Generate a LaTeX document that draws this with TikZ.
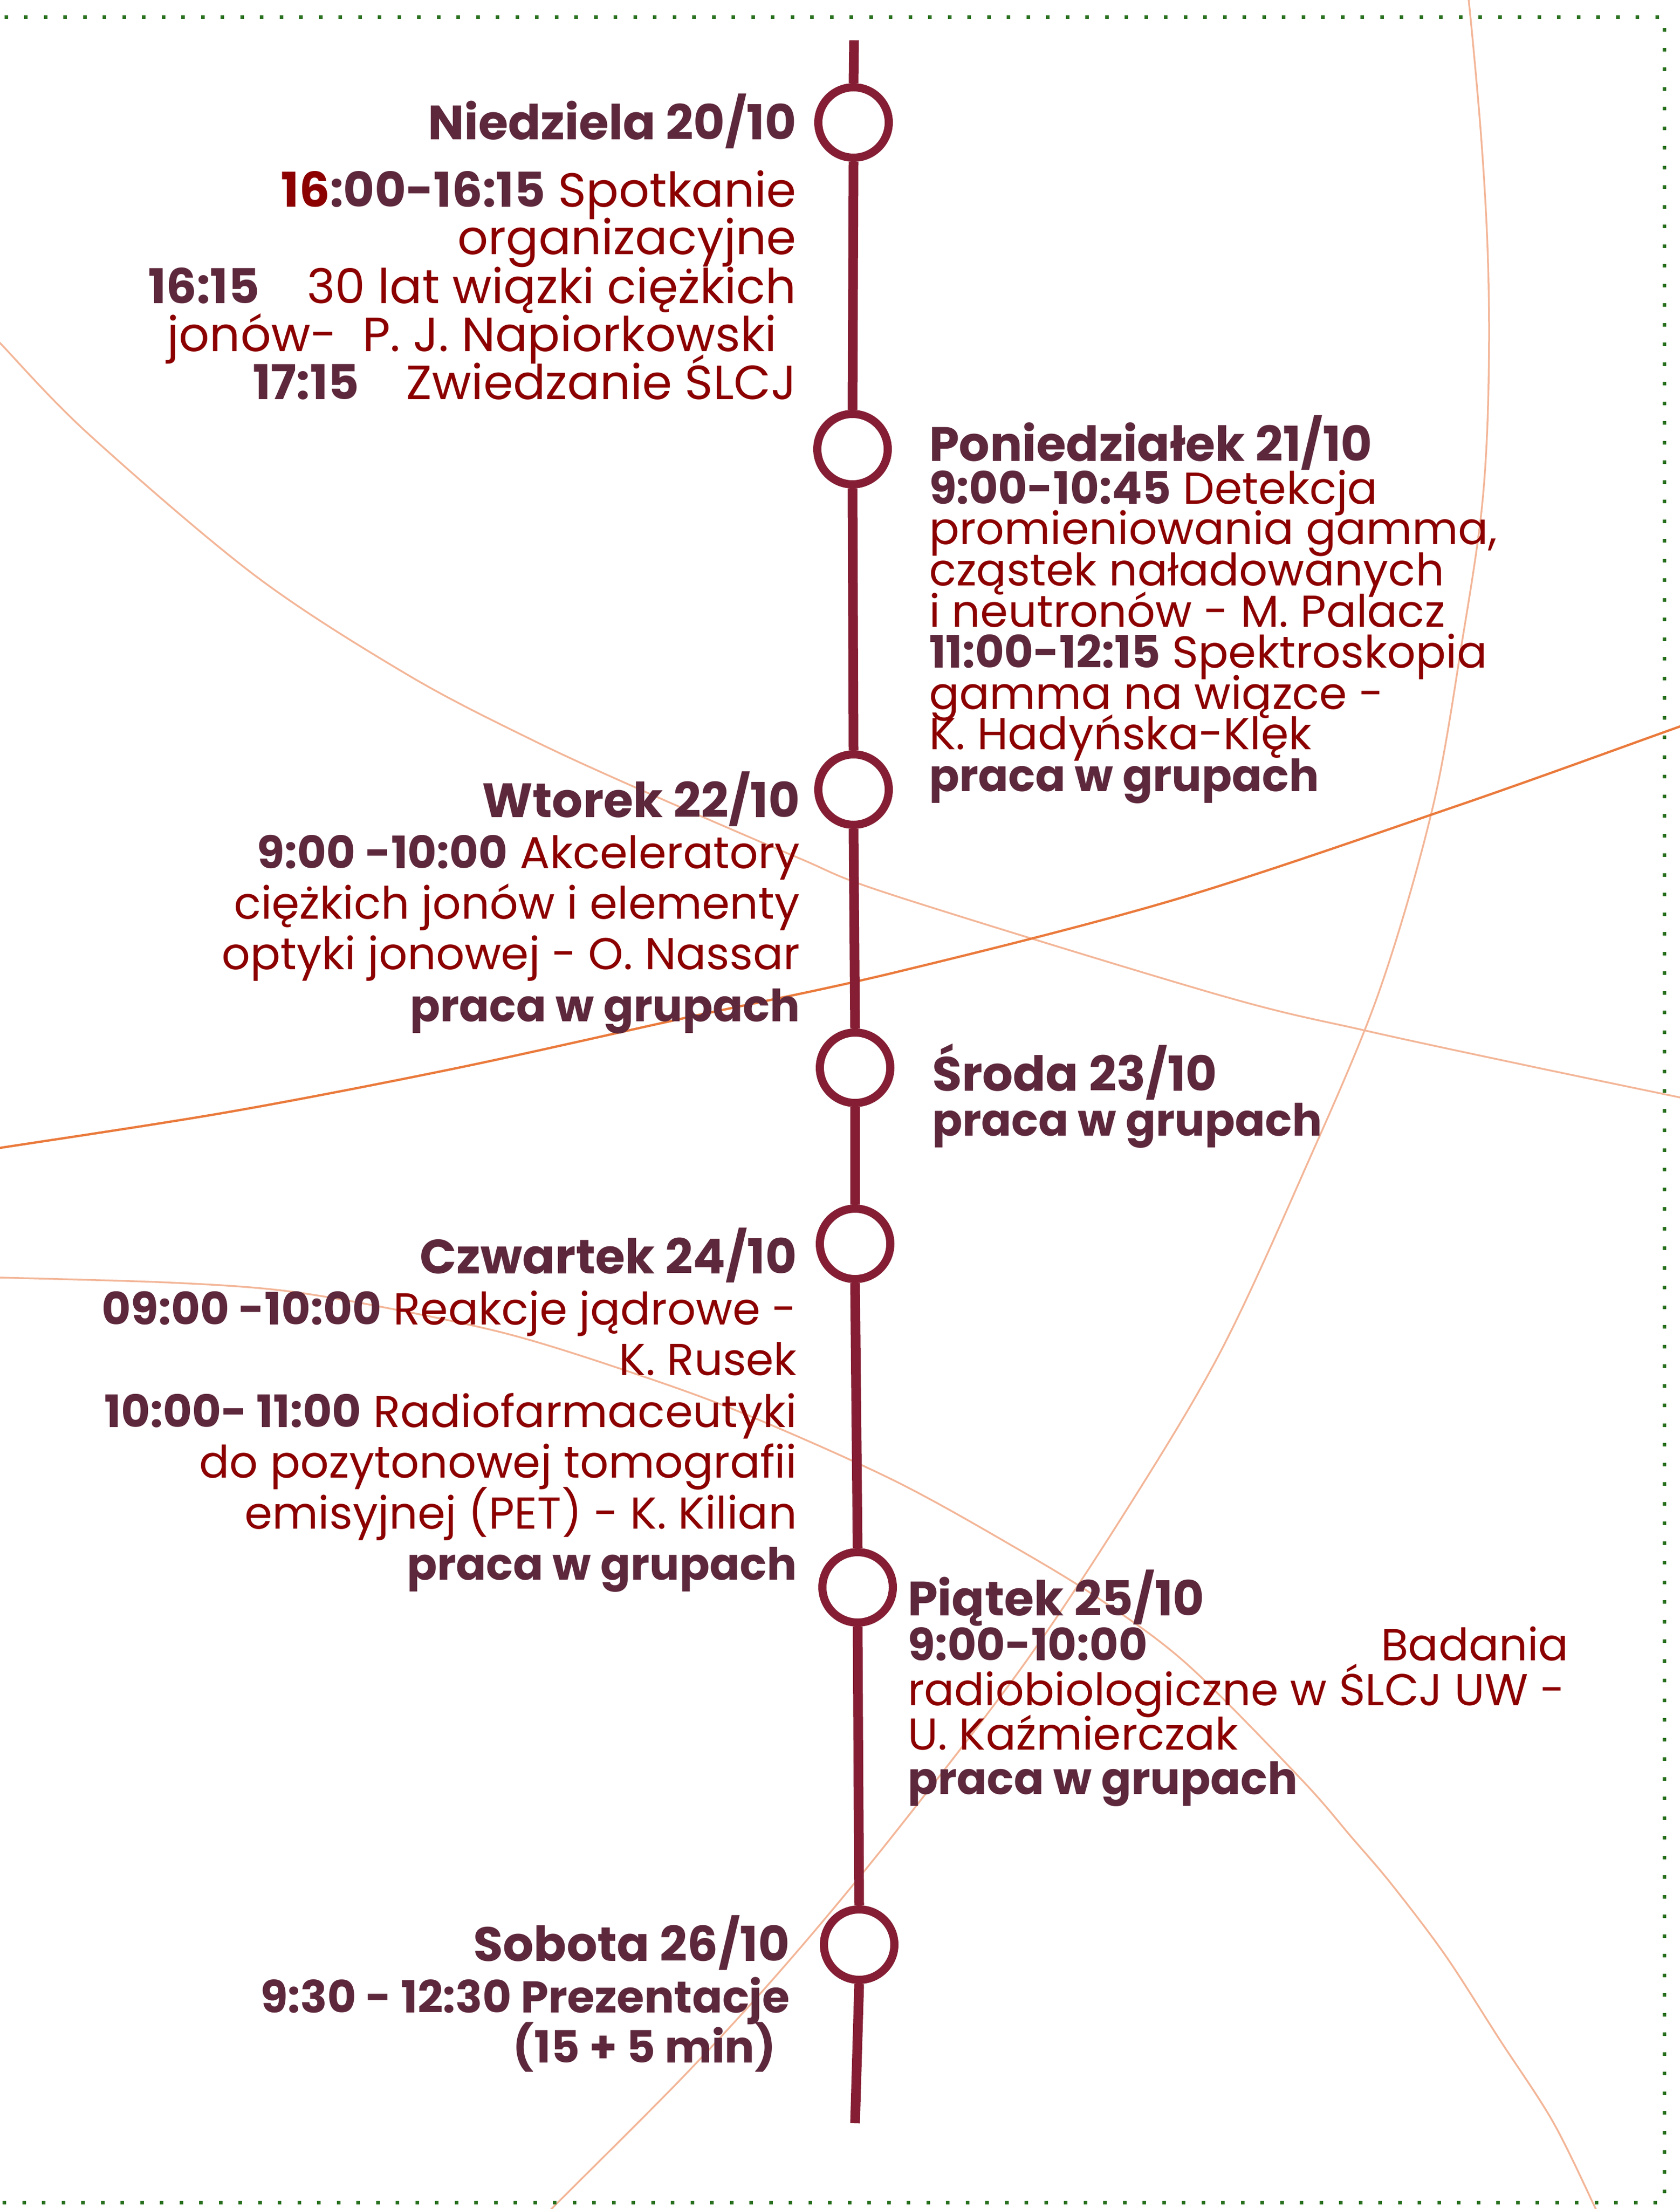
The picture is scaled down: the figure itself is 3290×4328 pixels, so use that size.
\documentclass[tikz,border=0pt]{standalone}
\usepackage{fontspec}
\setmainfont{Poppins}
\definecolor{plum}{RGB}{94,40,60}
\definecolor{redtxt}{RGB}{140,0,0}
\definecolor{crimson}{RGB}{133,30,52}
\definecolor{salmon}{RGB}{243,182,152}
\definecolor{orangeln}{RGB}{234,122,60}
\definecolor{dotgreen}{RGB}{40,112,30}
\newcommand\hdf{\fontsize{18.9pt}{19pt}\selectfont\bfseries}
\newcommand\bdfA{\fontsize{18.8pt}{19pt}\selectfont}
\newcommand\bdf{\fontsize{17.5pt}{18pt}\selectfont}
\newcommand\prf{\fontsize{17.4pt}{18pt}\selectfont\bfseries}
\newcommand\bb[1]{{\bfseries\color{plum}#1}}
\tikzset{
  hdR/.style={anchor=base east, inner sep=0pt, text=plum, font=\hdf},
  hdL/.style={anchor=base west, inner sep=0pt, text=plum, font=\hdf},
  prR/.style={anchor=base east, inner sep=0pt, text=plum, font=\prf},
  prL/.style={anchor=base west, inner sep=0pt, text=plum, font=\prf},
  bdAR/.style={anchor=base east, inner sep=0pt, text=redtxt, font=\bdfA},
  bdR/.style={anchor=base east, inner sep=0pt, text=redtxt, font=\bdf},
  bdL/.style={anchor=base west, inner sep=0pt, text=redtxt, font=\bdf},
  stop/.style={circle, draw=crimson, fill=white, line width=3.2pt, minimum size=27.6pt, inner sep=0pt},
  arcln/.style={draw=salmon, line width=0.7pt},
  mainarc/.style={draw=orangeln, line width=0.9pt},
  frameln/.style={draw=dotgreen, line width=1.4pt, dash pattern=on 1.4pt off 6.3pt}
}
\begin{document}
\begin{tikzpicture}[x=0.2pt,y=-0.2pt]
\useasboundingbox (0,0) rectangle (3290,4328);
% decorative curves
\draw[arcln] plot[smooth, tension=0.55] coordinates {(2868,-40) (2877,0) (2900,250) (2913,461) (2917,650) (2913,850) (2900,1020) (2867,1239) (2807,1580) (2699,1950) (2549,2307) (2390,2650) (2212,2950) (2005,3262) (1746,3600) (1542,3846) (1343,4064) (1080,4328) (1060,4350)};
\draw[arcln] plot[smooth, tension=0.55] coordinates {(-20,652) (0,672) (173,850) (500,1128) (800,1323) (1043,1450) (1261,1550) (1562,1680) (1750,1754) (2390,1950) (2674,2019) (2993,2088) (3300,2152)};
\draw[mainarc] plot[smooth, tension=0.55] coordinates {(-20,2252) (0,2249) (446,2179) (893,2093) (1339,1995) (1750,1906) (2300,1763) (2851,1580) (3250,1438) (3310,1416)};
\draw[arcln] plot[smooth, tension=0.55] coordinates {(-20,2503) (0,2503) (335,2513) (558,2529) (781,2567) (1004,2616) (1228,2686) (1451,2767) (1750,2900) (1994,3035) (2160,3137) (2327,3262) (2549,3486) (2648,3600) (2727,3693) (2832,3832) (2937,3995) (3042,4157) (3126,4328) (3135,4350)};
% frame
\draw[frameln] (-30,34) -- (3260,34) -- (3260,4315) -- (-30,4315);
% timeline
\coordinate (tTop) at (1673,79);
\coordinate (tBot) at (1675,4160);
\node[stop] (c1) at (1672,240) {};
\node[stop] (c2) at (1670,880) {};
\node[stop] (c3) at (1672,1547) {};
\node[stop] (c4) at (1675,2092) {};
\node[stop] (c5) at (1675,2437) {};
\node[stop] (c6) at (1680,3110) {};
\node[stop] (c7) at (1683,3810) {};
\draw[crimson, line width=3.8pt] (tTop) -- (c1.north) (c1.south) -- (c2.north) (c2.south) -- (c3.north) (c3.south) -- (c4.north) (c4.south) -- (c5.north) (c5.south) -- (c6.north) (c6.south) -- (c7.north) (c7.south) -- (tBot);
% block 1
\node[hdR] (n1h) at (1561,274) {Niedziela 20/10};
\node[bdAR] (n1a) at (1561,406) {{\bfseries 16}\bb{:00-16:15} Spotkanie};
\node[bdAR] (n1b) at (1561,499) {organizacyjne};
\node[bdAR] (n1c) at (1561,595) {\bb{16:15}\hspace{18.6pt}30 lat wiązki ciężkich};
\node[bdAR] (n1d) at (1523,689) {jonów-\ \ P. J. Napiorkowski};
\node[bdAR] (n1e) at (1561,783) {\bb{17:15}\hspace{18.4pt}Zwiedzanie ŚLCJ};
% block 2
\node[hdL] (n2h) at (1819,904) {Poniedziałek 21/10};
\node[bdL] (n2a) at (1819,987) {\bb{9:00-10:45} Detekcja};
\node[bdL] (n2b) at (1819,1066) {promieniowania gamma,};
\node[bdL] (n2c) at (1819,1147) {cząstek naładowanych};
\node[bdL] (n2d) at (1819,1228) {i neutronów - M. Palacz};
\node[bdL] (n2e) at (1819,1308) {\bb{11:00-12:15} Spektroskopia};
\node[bdL] (n2f) at (1819,1389) {gamma na wiązce -};
\node[bdL] (n2g) at (1819,1468) {K. Hadyńska-Klęk};
\node[prL] (n2i) at (1819,1550) {praca w grupach};
% block 3
\node[hdR] (n3h) at (1568,1601) {Wtorek 22/10};
\node[bdR] (n3a) at (1568,1701) {\bb{9:00 -10:00} Akceleratory};
\node[bdR] (n3b) at (1568,1800) {ciężkich jonów i elementy};
\node[bdR] (n3c) at (1568,1899) {optyki jonowej - O. Nassar};
\node[prR] (n3d) at (1568,2001) {praca w grupach};
% block 4
\node[hdL] (n4h) at (1825,2137) {Środa 23/10};
\node[prL] (n4a) at (1825,2225) {praca w grupach};
% block 5
\node[hdR] (n5h) at (1562,2495) {Czwartek 24/10};
\node[bdR] (n5a) at (1562,2595) {\bb{09:00 -10:00} Reakcje jądrowe -};
\node[bdR] (n5b) at (1562,2694) {K. Rusek};
\node[bdR] (n5c) at (1562,2796) {\bb{10:00- 11:00} Radiofarmaceutyki};
\node[bdR] (n5d) at (1562,2895) {do pozytonowej tomografii};
\node[bdR] (n5e) at (1562,2995) {emisyjnej (PET) - K. Kilian};
\node[prR] (n5f) at (1562,3095) {praca w grupach};
% block 6
\node[hdL] (n6h) at (1777,3165) {Piątek 25/10};
\node[prL] (n6a) at (1777,3253) {9:00-10:00};
\node[bdR] (n6b) at (3074,3253) {Badania};
\node[bdL] (n6c) at (1777,3341) {radiobiologiczne w ŚLCJ UW -};
\node[bdL] (n6d) at (1777,3428) {U. Kaźmierczak};
\node[prL] (n6e) at (1777,3515) {praca w grupach};
% block 7
\node[hdR] (n7h) at (1548,3842) {Sobota 26/10};
\node[prR] (n7a) at (1548,3943) {9:30 - 12:30 Prezentacje};
\node[prR] (n7b) at (1521,4041) {(15 + 5 min)};
\end{tikzpicture}
\end{document}
